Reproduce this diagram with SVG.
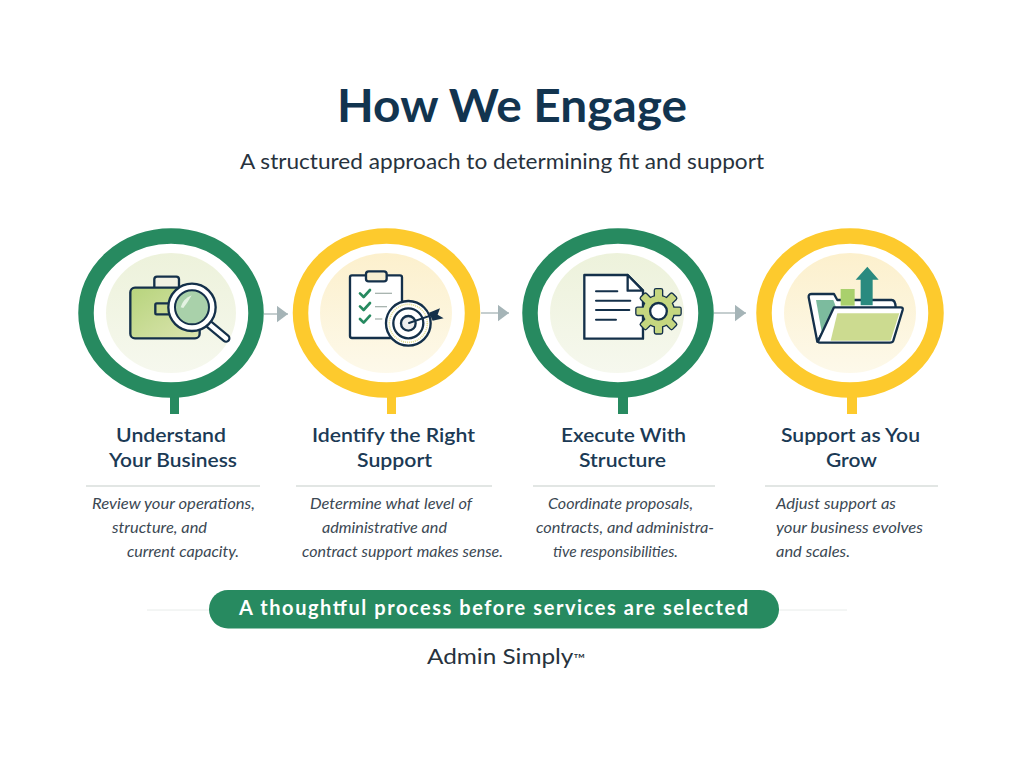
<svg xmlns="http://www.w3.org/2000/svg" width="1024" height="768" viewBox="0 0 1024 768">
<style>
text{font-family:Lato,"Open Sans","Liberation Sans",sans-serif}
.t{font-weight:700;fill:#12344f}
.s{fill:#27323d}
.h{font-weight:600;fill:#1b3a55;font-size:20px}
.d{font-style:italic;fill:#3b4853;font-size:16px}
.g{fill:none;stroke:#278a60;stroke-width:15.500}
.y{fill:none;stroke:#fdca2d;stroke-width:15.500}
.pg{fill:url(#pgf)}
.py{fill:url(#pyf)}
.r{stroke:#d9dedb;stroke-width:1.300}
.b{stroke:#e8ecea;stroke-width:1}
.c{stroke:#b7c2c3;stroke-width:1.600;marker-end:url(#ah)}
.n{stroke:#14304a;stroke-linejoin:round;stroke-linecap:round;stroke-width:7}
.nn{fill:none;stroke:#14304a;stroke-linecap:round;stroke-linejoin:round;stroke-width:6}
.ck{fill:none;stroke:#278a60;stroke-width:8;stroke-linecap:round;stroke-linejoin:round}
.gl{fill:none;stroke:#a9b5b0;stroke-width:4}
</style>
<defs>
<marker id="ah" markerUnits="userSpaceOnUse" markerWidth="12" markerHeight="18" refX="11.500" refY="8.500" orient="auto"><path d="M0 0L11.500 8.500L0 17Z" fill="#a5b4b7"/></marker>
<linearGradient id="bg" x1="0" y1="0" x2="1" y2="1"><stop offset="0" stop-color="#b7d47c"/><stop offset="1" stop-color="#dbe4b0"/></linearGradient>
<linearGradient id="pgf" x1="0" y1="0" x2="0" y2="1"><stop offset="0" stop-color="#edf2db"/><stop offset="1" stop-color="#f6f8ee"/></linearGradient>
<linearGradient id="pyf" x1="0" y1="0" x2="0" y2="1"><stop offset="0" stop-color="#fcf0cd"/><stop offset="1" stop-color="#fdf9ea"/></linearGradient>
<rect id="tooth" x="420" y="208" width="21" height="26" rx="3"/>
</defs>
<rect width="1024" height="768" fill="#fff"/>
<g id="header">
<text class="t" x="512" y="122" text-anchor="middle" font-size="45" textLength="350" lengthAdjust="spacingAndGlyphs">How We Engage</text>
<text class="s" x="502" y="169" text-anchor="middle" font-size="22" textLength="524" lengthAdjust="spacingAndGlyphs">A structured approach to determining fit and support</text>
</g>
<g id="connectors">
<line class="c" x1="264" y1="314" x2="288" y2="314"/>
<line class="c" x1="481" y1="313" x2="509" y2="313"/>
<line class="c" x1="714" y1="313" x2="746" y2="313"/>
</g>
<g id="step1">
<rect x="170" y="395" width="9" height="19" fill="#278a60"/>
<ellipse class="g" cx="171" cy="313" rx="85" ry="77"/>
<ellipse class="pg" cx="171" cy="313" rx="65" ry="60"/>
<g transform="translate(70 220) scale(.3333)">
<rect class="n" x="253" y="170" width="74" height="42" rx="8" fill="#f1f1e4"/>
<rect class="n" x="181" y="203" width="208" height="152" rx="14" fill="url(#bg)"/>
<rect class="n" x="256" y="250" width="50" height="33" rx="4" fill="#c8da90"/>
<line x1="420" y1="315" x2="468" y2="355" stroke="#14304a" stroke-width="27" stroke-linecap="round"/>
<line x1="420" y1="315" x2="468" y2="355" stroke="#fff" stroke-width="14" stroke-linecap="round"/>
<circle class="n" cx="366" cy="262" r="71" fill="#fff"/>
<circle class="n" cx="366" cy="262" r="51" fill="#a9d1aa" style="stroke-width:6"/>
<path d="M332 262Q340 235 365 226Q352 250 340 264Z" fill="#e4f2e2"/>
</g>
</g>
<g id="step2">
<rect x="387" y="395" width="9" height="19" fill="#fdca2d"/>
<ellipse class="y" cx="386.500" cy="313" rx="86" ry="77"/>
<ellipse class="py" cx="386" cy="313" rx="66" ry="60"/>
<g transform="translate(285 220) scale(.3333)">
<rect class="n" x="195" y="166" width="156" height="188" rx="6" fill="#fff"/>
<rect class="n" x="243" y="154" width="62" height="30" rx="8" fill="#f8efd0"/>
<polyline class="ck" points="225,220 236,231 255,210"/>
<polyline class="ck" points="225,259 236,270 255,249"/>
<polyline class="ck" points="225,297 236,308 255,287"/>
<line class="gl" x1="270" y1="220" x2="321" y2="220"/>
<line class="gl" x1="270" y1="260" x2="306" y2="260"/>
<line class="gl" x1="270" y1="297" x2="292" y2="297"/>
<circle class="n" cx="370" cy="310" r="67" fill="#fff"/>
<circle cx="370" cy="310" r="57" fill="none" stroke="#e4dd8c" stroke-width="5" stroke-dasharray="3 3"/>
<circle class="n" cx="370" cy="310" r="45" fill="#fff"/>
<circle class="n" cx="370" cy="310" r="22" fill="#eee"/>
<line class="nn" x1="372" y1="309" x2="445" y2="284"/>
<polygon points="432,278 465,265 458,284 476,295 443,302" fill="#14304a"/>
</g>
</g>
<g id="step3">
<rect x="618" y="395" width="10" height="19" fill="#278a60"/>
<ellipse class="g" cx="618" cy="313" rx="88" ry="77"/>
<ellipse class="pg" cx="617" cy="313" rx="67" ry="60"/>
<g transform="translate(515 220) scale(.3333)">
<path class="n" d="M208 165H338L384 212V356H208Z" fill="#fff"/>
<path class="n" d="M338 165V212H384Z" fill="#fff"/>
<path class="nn" d="M243 214H307M243 242H346M243 270H343M243 299H303"/>
<g fill="#14304a" stroke="#14304a" stroke-width="8" stroke-linejoin="round">
<use href="#tooth"/><use href="#tooth" transform="rotate(45 430.500 274)"/><use href="#tooth" transform="rotate(90 430.500 274)"/><use href="#tooth" transform="rotate(135 430.500 274)"/><use href="#tooth" transform="rotate(180 430.500 274)"/><use href="#tooth" transform="rotate(225 430.500 274)"/><use href="#tooth" transform="rotate(270 430.500 274)"/><use href="#tooth" transform="rotate(315 430.500 274)"/>
<circle cx="430.500" cy="274" r="46"/>
</g>
<g fill="#c5d67f">
<use href="#tooth"/><use href="#tooth" transform="rotate(45 430.500 274)"/><use href="#tooth" transform="rotate(90 430.500 274)"/><use href="#tooth" transform="rotate(135 430.500 274)"/><use href="#tooth" transform="rotate(180 430.500 274)"/><use href="#tooth" transform="rotate(225 430.500 274)"/><use href="#tooth" transform="rotate(270 430.500 274)"/><use href="#tooth" transform="rotate(315 430.500 274)"/>
<circle cx="430.500" cy="274" r="46"/>
</g>
<circle class="n" cx="430.500" cy="274" r="25" fill="#fff"/>
</g>
</g>
<g id="step4">
<rect x="847" y="395" width="10" height="19" fill="#fdca2d"/>
<ellipse class="y" cx="850" cy="313" rx="86" ry="77"/>
<ellipse class="py" cx="850" cy="313" rx="66" ry="60"/>
<g transform="translate(730 220) scale(.3333)">
<path class="n" d="M262 365L236 232Q235 222 245 222H312L322 240H485Q496 240 497 262V300H300Z" fill="#fff"/>
<path d="M258 240H310L318 262L278 352Z" fill="#7cbb9e"/>
<rect x="332" y="207" width="42" height="50" fill="#a9d06c"/>
<polygon points="412,140 446,179 428,179 428,256 392,256 392,179 377,179" fill="#2a8a7f"/>
<path class="n" d="M312 262H512Q520 262 518 270L490 362Q488 368 480 368H270Q262 368 266 360Z" fill="#fff"/>
<path d="M322 280H508L482 362H302Z" fill="#ccdb90"/>
</g>
</g>
<g id="labels">
<text class="h" x="171" y="442" text-anchor="middle" textLength="110" lengthAdjust="spacingAndGlyphs">Understand</text>
<text class="h" x="173" y="467" text-anchor="middle" textLength="128" lengthAdjust="spacingAndGlyphs">Your Business</text>
<text class="h" x="393.500" y="442" text-anchor="middle" textLength="163" lengthAdjust="spacingAndGlyphs">Identify the Right</text>
<text class="h" x="394.500" y="467" text-anchor="middle" textLength="75" lengthAdjust="spacingAndGlyphs">Support</text>
<text class="h" x="623.500" y="442" text-anchor="middle" textLength="125" lengthAdjust="spacingAndGlyphs">Execute With</text>
<text class="h" x="622.500" y="467" text-anchor="middle" textLength="87" lengthAdjust="spacingAndGlyphs">Structure</text>
<text class="h" x="850.500" y="442" text-anchor="middle" textLength="139" lengthAdjust="spacingAndGlyphs">Support as You</text>
<text class="h" x="851.500" y="467" text-anchor="middle" textLength="51" lengthAdjust="spacingAndGlyphs">Grow</text>
<line class="r" x1="86" y1="486" x2="260" y2="486"/>
<line class="r" x1="296" y1="486" x2="492" y2="486"/>
<line class="r" x1="533" y1="486" x2="715" y2="486"/>
<line class="r" x1="765" y1="486" x2="938" y2="486"/>
<text class="d" x="92" y="509" textLength="163" lengthAdjust="spacingAndGlyphs">Review your operations,</text>
<text class="d" x="112" y="533" textLength="95" lengthAdjust="spacingAndGlyphs">structure, and</text>
<text class="d" x="127" y="557" textLength="112" lengthAdjust="spacingAndGlyphs">current capacity.</text>
<text class="d" x="310" y="509" textLength="162" lengthAdjust="spacingAndGlyphs">Determine what level of</text>
<text class="d" x="322" y="533" textLength="125" lengthAdjust="spacingAndGlyphs">administrative and</text>
<text class="d" x="302" y="557" textLength="201" lengthAdjust="spacingAndGlyphs">contract support makes sense.</text>
<text class="d" x="548" y="509" textLength="145" lengthAdjust="spacingAndGlyphs">Coordinate proposals,</text>
<text class="d" x="536" y="533" textLength="178" lengthAdjust="spacingAndGlyphs">contracts, and administra-</text>
<text class="d" x="553" y="557" textLength="125" lengthAdjust="spacingAndGlyphs">tive responsibilities.</text>
<text class="d" x="776" y="509" textLength="120" lengthAdjust="spacingAndGlyphs">Adjust support as</text>
<text class="d" x="776" y="533" textLength="147" lengthAdjust="spacingAndGlyphs">your business evolves</text>
<text class="d" x="776" y="557" textLength="74" lengthAdjust="spacingAndGlyphs">and scales.</text>
</g>
<g id="banner">
<line class="b" x1="147" y1="610" x2="210" y2="610"/>
<line class="b" x1="778" y1="610" x2="847" y2="610"/>
<rect x="209" y="590" width="570" height="38.500" rx="19" fill="#278a60"/>
<text x="493.500" y="615" text-anchor="middle" font-size="20" font-weight="700" fill="#fff" textLength="509" lengthAdjust="spacing">A thoughtful process before services are selected</text>
</g>
<g id="footer">
<text class="s" x="427" y="664" font-size="22" textLength="158" lengthAdjust="spacingAndGlyphs">Admin Simply<tspan font-size="14">™</tspan></text>
</g>
</svg>
